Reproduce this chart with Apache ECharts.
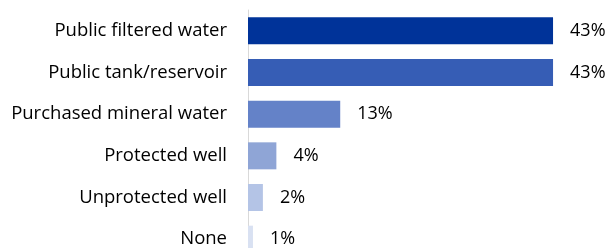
<!DOCTYPE html>
<html>
<head>
<meta charset="utf-8">
<script src="https://cdn.jsdelivr.net/npm/echarts@6/dist/echarts.min.js"></script>
<style>
	html, body { margin: 0; padding: 0; background: #fff; }
	#chart { width: 607px; height: 248px; }
</style>
</head>
<body>
<div id="chart"></div>
<script>
	var categories = ['Public filtered water', 'Public tank/reservoir', 'Purchased mineral water', 'Protected well', 'Unprotected well', 'None'];
	var shares = [43, 43, 13, 4, 2.1, 0.7];
	var barColors = ['#003399', '#365db5', '#6482c8', '#8fa5d6', '#b4c4e6', '#d9e1f2'];

	var chart = echarts.init(document.getElementById('chart'));

	var option = {
		backgroundColor: '#fff',
		animation: false,
		grid: {
			left: 248,
			top: 10,
			width: 354.7,
			height: 250,
			containLabel: false,
			outerBoundsMode: 'none'
		},
		xAxis: {
			type: 'value',
			min: 0,
			max: 50,
			show: false
		},
		yAxis: {
			type: 'category',
			inverse: true,
			data: categories,
			axisTick: { show: false },
			axisLine: {
				show: true,
				lineStyle: { color: '#d9d9d9', width: 1 }
			},
			axisLabel: {
				color: '#000',
				fontFamily: 'Open Sans',
				fontSize: 18.5,
				margin: 21
			}
		},
		series: [{
			type: 'bar',
			barWidth: 27,
			data: shares.map(function (v, i) {
				return { value: v, itemStyle: { color: barColors[i] } };
			}),
			label: {
				show: true,
				position: 'right',
				distance: 17,
				color: '#000',
				fontFamily: 'Open Sans',
				fontSize: 18,
				formatter: function (p) {
					return Math.max(1, Math.round(p.value)) + '%';
				}
			}
		}]
	};

	chart.setOption(option);
</script>
</body>
</html>
